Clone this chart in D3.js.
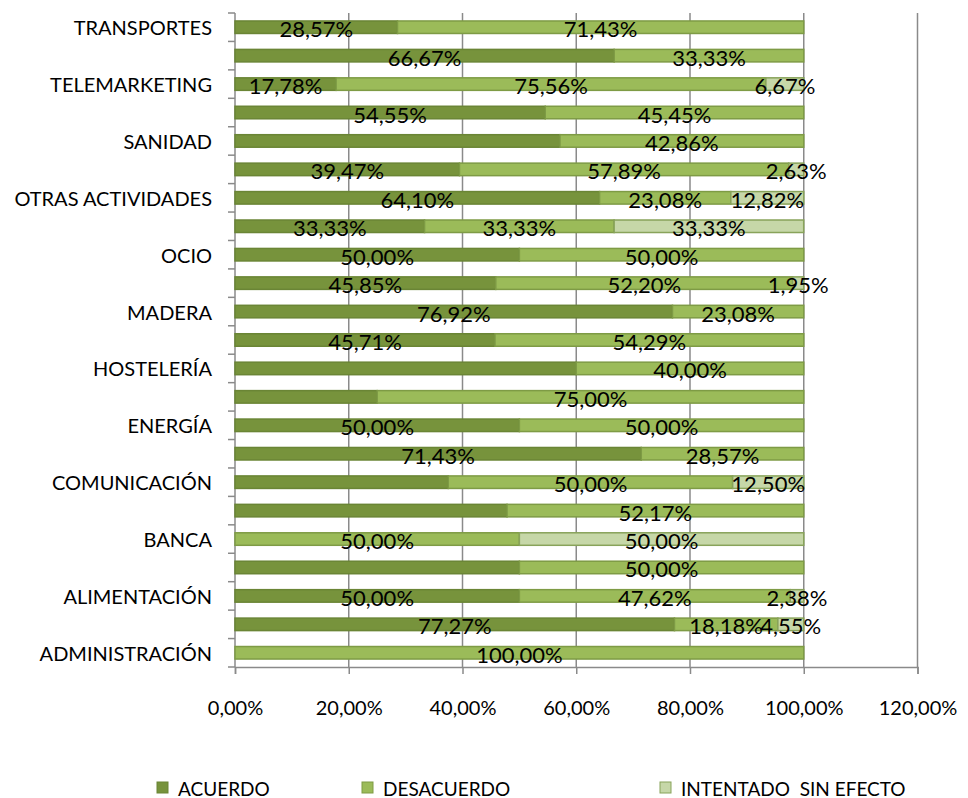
<!DOCTYPE html>
<html>
<head>
<meta charset="utf-8">
<script src="https://cdn.jsdelivr.net/npm/d3@7"></script>
<style>
  html, body { margin: 0; padding: 0; background: #ffffff; }
  svg { display: block; }
  text { font-family: Lato, "Open Sans", sans-serif; fill: #000; }
</style>
</head>
<body>
<svg id="chart" width="968" height="798"></svg>
<script>
// ---- data (bottom to top) ----
const categories = [
  "ADMINISTRACIÓN", "", "ALIMENTACIÓN", "", "BANCA", "", "COMUNICACIÓN", "",
  "ENERGÍA", "", "HOSTELERÍA", "", "MADERA", "", "OCIO", "",
  "OTRAS ACTIVIDADES", "", "SANIDAD", "", "TELEMARKETING", "", "TRANSPORTES"
];
const acuerdo = [0, 77.27, 50.00, 50.00, 0, 47.83, 37.50, 71.43, 50.00, 25.00, 60.00, 45.71,
  76.92, 45.85, 50.00, 33.33, 64.10, 39.47, 57.14, 54.55, 17.78, 66.67, 28.57];
const desacuerdo = [100.00, 18.18, 47.62, 50.00, 50.00, 52.17, 50.00, 28.57, 50.00, 75.00, 40.00, 54.29,
  23.08, 52.20, 50.00, 33.33, 23.08, 57.89, 42.86, 45.45, 75.56, 33.33, 71.43];
const intentado = [0, 4.55, 2.38, 0, 50.00, 0, 12.50, 0, 0, 0, 0, 0,
  0, 1.95, 0, 33.33, 12.82, 2.63, 0, 0, 6.67, 0, 0];
// whether the ACUERDO value label is shown on each bar
const acuerdoLabelShown = [true, true, true, false, true, false, false, true, true, false, false, true,
  true, true, true, true, true, true, false, true, true, true, true];
const seriesNames = ["ACUERDO", "DESACUERDO", "INTENTADO  SIN EFECTO"];
const xTicks = [0, 20, 40, 60, 80, 100, 120];

// ---- styles ----
const fills = ["#77933C", "#9BBB59", "#C6D7A8"];
const strokes = ["#6A8535", "#7E9B45", "#88A35A"];
const gridColor = "#8A8A8A";

const svg = d3.select("#chart");
const fmt = v => v.toFixed(2).replace(".", ",") + "%";

const x = d3.scaleLinear().domain([0, 120]).range([235, 917.5]);
const idx = d3.range(categories.length);
const y = d3.scaleBand().domain(idx).range([667, 13]).paddingInner(0.56).paddingOuter(0.28);
const step = y.step();

// gridlines
svg.append("g").selectAll("line").data(xTicks.slice(1)).join("line")
  .attr("x1", d => x(d)).attr("x2", d => x(d))
  .attr("y1", 13).attr("y2", 667)
  .attr("stroke", gridColor).attr("stroke-width", 1.5);

// x axis
const xAxis = d3.axisBottom(x).tickValues(xTicks).tickSize(7).tickPadding(27)
  .tickFormat(d => d.toFixed(2).replace(".", ",") + "%");
const gx = svg.append("g").attr("transform", "translate(0,667)").call(xAxis);
gx.select(".domain").attr("stroke", gridColor).attr("stroke-width", 1.5);
gx.selectAll(".tick line").attr("stroke", gridColor).attr("stroke-width", 1.5);
gx.selectAll(".tick text").style("font-size", "20px").attr("fill", "#000");

// y axis line + ticks at band boundaries
svg.append("line").attr("x1", 235).attr("x2", 235).attr("y1", 13).attr("y2", 667)
  .attr("stroke", gridColor).attr("stroke-width", 1.5);
svg.append("g").selectAll("line").data(d3.range(categories.length + 1)).join("line")
  .attr("x1", 228).attr("x2", 235)
  .attr("y1", k => 667 - k * step).attr("y2", k => 667 - k * step)
  .attr("stroke", gridColor).attr("stroke-width", 1.5);

// category labels
svg.append("g").selectAll("text").data(idx).join("text")
  .attr("x", 212).attr("y", i => y(i) + y.bandwidth() / 2)
  .attr("text-anchor", "end").attr("dominant-baseline", "central")
  .style("font-size", "20px")
  .text(i => categories[i]);

// stacked segments
const series = [acuerdo, desacuerdo, intentado];
const segs = [];
idx.forEach(i => {
  let start = 0;
  series.forEach((s, k) => {
    const v = s[i];
    if (v > 0) {
      const shown = k === 0 ? acuerdoLabelShown[i] : true;
      segs.push({ i, k, x0: start, x1: start + v, v, shown });
    }
    start += v;
  });
});

svg.append("g").selectAll("rect").data(segs).join("rect")
  .attr("x", d => x(d.x0)).attr("width", d => x(d.x1) - x(d.x0))
  .attr("y", d => y(d.i)).attr("height", y.bandwidth())
  .attr("fill", d => fills[d.k]).attr("stroke", d => strokes[d.k]).attr("stroke-width", 1.5);

svg.append("g").selectAll("text").data(segs.filter(d => d.shown)).join("text")
  .attr("x", d => x((d.x0 + d.x1) / 2))
  .attr("y", d => y(d.i) + y.bandwidth() / 2 + 1.5)
  .attr("text-anchor", "middle").attr("dominant-baseline", "central")
  .style("font-size", "22px")
  .text(d => fmt(d.v));

// legend
const legendX = [157, 362, 660];
const lg = svg.append("g").selectAll("g").data(seriesNames).join("g")
  .attr("transform", (d, k) => `translate(${legendX[k]},788)`);
lg.append("rect").attr("x", 0).attr("y", -6).attr("width", 11).attr("height", 11)
  .attr("fill", (d, k) => fills[k]).attr("stroke", (d, k) => strokes[k]).attr("stroke-width", 1);
lg.append("text").attr("x", 21).attr("y", 0).attr("dominant-baseline", "central")
  .style("font-size", "19px").attr("xml:space", "preserve").style("white-space", "pre")
  .text(d => d);
</script>
</body>
</html>
